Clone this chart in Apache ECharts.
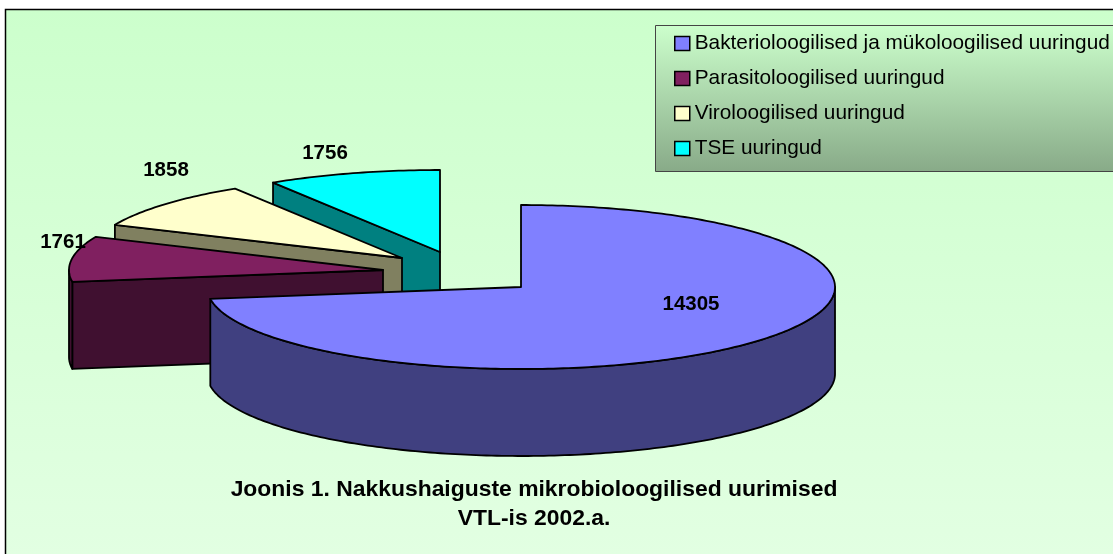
<!DOCTYPE html>
<html>
<head>
<meta charset="utf-8">
<style>html,body{margin:0;padding:0;background:#fff}#chart{width:1113px;height:554px}</style>
<script src="https://cdn.jsdelivr.net/npm/echarts@6/dist/echarts.min.js"></script>
</head>
<body>
<div id="chart"></div>
<script>
var categories = ['Bakterioloogilised ja mükoloogilised uuringud', 'Parasitoloogilised uuringud', 'Viroloogilised uuringud', 'TSE uuringud'];
var values = [14305, 1761, 1858, 1756];
var titleLines = ['Joonis 1. Nakkushaiguste mikrobioloogilised uurimised', 'VTL-is 2002.a.'];
var topColors = ['#8080ff', '#802060', '#ffffcc', '#00ffff'];
var sideColors = ['#404080', '#401030', '#808060', '#008080'];

// pie geometry: tilted ellipse, every slice pulled out on its own
var rx = 314, ry = 82, depth = 87;
var centers = [[521, 287], [383, 270], [402, 258], [440, 252]];
var labelPos = [[691, 304], [63, 242], [166, 170], [325, 153]];

var total = values.reduce(function (a, b) { return a + b; }, 0);
var angles = [];
var acc = 0;
values.forEach(function (v) {
    angles.push([acc / total * Math.PI * 2, (acc + v) / total * Math.PI * 2]);
    acc += v;
});

function pt(c, t, dy) {
    return [c[0] + rx * Math.sin(t), c[1] - ry * Math.cos(t) + (dy || 0)];
}
function arc(c, t0, t1, dy) {
    var n = Math.max(2, Math.ceil(Math.abs(t1 - t0) * 60));
    var out = [];
    for (var i = 0; i <= n; i++) {
        out.push(pt(c, t0 + (t1 - t0) * i / n, dy));
    }
    return out;
}
var edge = { stroke: '#000', lineWidth: 1.8, lineJoin: 'round' };
function poly(points, fill) {
    return { type: 'polygon', shape: { points: points }, style: Object.assign({ fill: fill }, edge) };
}

function renderSlice(idx) {
    return function () {
        var c = centers[idx], t0 = angles[idx][0], t1 = angles[idx][1];
        var kids = [];
        var side = sideColors[idx];
        // cut face
        if (Math.sin(t0) < 0) {
            var s = pt(c, t0);
            kids.push(poly([c, s, [s[0], s[1] + depth], [c[0], c[1] + depth]], side));
        }
        // outer wall, only the part turned towards the viewer
        var a = Math.max(t0, Math.PI / 2), b = Math.min(t1, Math.PI * 1.5);
        if (b > a) {
            kids.push(poly(arc(c, a, b, 0).concat(arc(c, b, a, depth)), side));
        }
        kids.push(poly([c].concat(arc(c, t0, t1, 0)), topColors[idx]));
        kids.push({
            type: 'text',
            style: {
                text: String(values[idx]), x: labelPos[idx][0], y: labelPos[idx][1],
                align: 'center', verticalAlign: 'middle',
                font: 'bold 20.5px "Liberation Sans"', fill: '#000'
            },
            z2: 10
        });
        return { type: 'group', children: kids };
    };
}

// back to front
var series = [];
for (var i = values.length - 1; i >= 0; i--) {
    series.push({
        type: 'custom',
        name: categories[i],
        coordinateSystem: 'none',
        renderItem: renderSlice(i),
        data: [values[i]],
        itemStyle: { color: topColors[i] },
        silent: true,
        animation: false
    });
}

var option = {
    backgroundColor: '#fff',
    animation: false,
    title: {
        text: titleLines.join('\n'),
        left: 529, top: 470, textAlign: 'center',
        textStyle: { fontFamily: 'Liberation Sans', fontWeight: 'bold', fontSize: 22.9, lineHeight: 29, color: '#000' }
    },
    legend: {
        orient: 'vertical',
        left: 674, top: 32,
        padding: 0,
        itemWidth: 15, itemHeight: 14, itemGap: 12,
        icon: 'rect',
        align: 'left',
        data: categories,
        itemStyle: { borderColor: '#000', borderWidth: 1.5 },
        textStyle: { fontFamily: 'Liberation Sans', fontSize: 20.8, color: '#000', lineHeight: 23 }
    },
    graphic: [
        { type: 'rect', z: -10, shape: { x: 5.5, y: 9.5, width: 1200, height: 700 },
          style: { stroke: '#000', lineWidth: 1.5,
            fill: new echarts.graphic.LinearGradient(0, 0, 0, 1, [{ offset: 0, color: '#ccffcc' }, { offset: 0.78, color: '#e2ffe2' }, { offset: 1, color: '#e2ffe2' }]) } },
        { type: 'rect', z: -5, shape: { x: 655.5, y: 25.5, width: 600, height: 146 },
          style: { stroke: '#444', lineWidth: 1,
            fill: new echarts.graphic.LinearGradient(0, 0, 0, 1, [{ offset: 0, color: '#ccffcc' }, { offset: 1, color: '#88aa88' }]) } }
    ],
    series: series
};

var myChart = echarts.init(document.getElementById('chart'));
myChart.setOption(option);
</script>
</body>
</html>
